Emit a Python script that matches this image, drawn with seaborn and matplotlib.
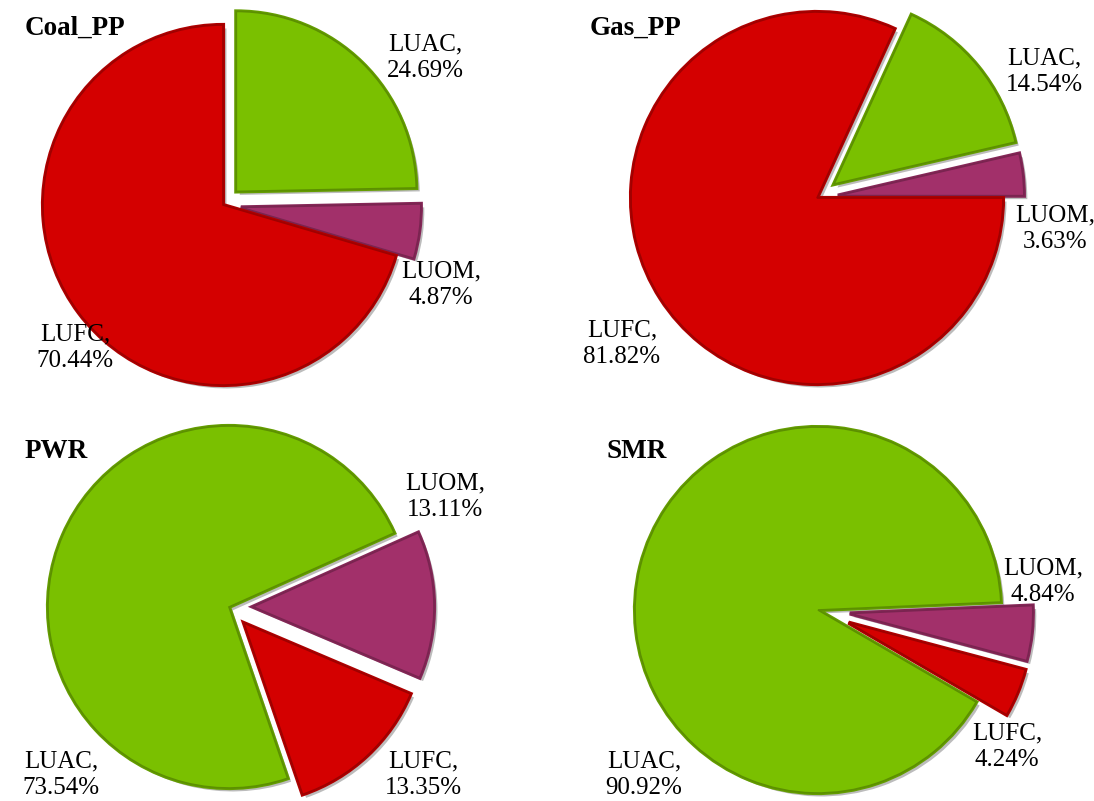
import matplotlib
matplotlib.use("Agg")
import matplotlib.pyplot as plt
import matplotlib.patheffects as pe
from matplotlib.colors import to_rgb
import seaborn as sns

sns.set_theme(style="white")
plt.rcParams["font.family"] = ["Liberation Serif", "DejaVu Serif"]

# Land-use cost shares (%) by plant type
categories = ["LUAC", "LUOM", "LUFC"]
plants = ["Coal_PP", "Gas_PP", "PWR", "SMR"]
coal_pp = [24.69, 4.87, 70.44]
gas_pp = [14.54, 3.63, 81.82]
pwr = [73.54, 13.11, 13.35]
smr = [90.92, 4.84, 4.24]
shares = [coal_pp, gas_pp, pwr, smr]

palette = dict(zip(categories, sns.color_palette(["#7AC000", "#A2306A", "#D40000"])))

W, H = 1094, 801

# Per-panel layout in figure pixels (y measured from the top)
layout = {
    "Coal_PP": dict(center=(223, 205), radius=180, start=90.0, explode=[19, 18, 0],
                    title=(25, 28),
                    labels={"LUAC": (425, 58), "LUOM": (441, 285), "LUFC": (75, 348)}),
    "Gas_PP": dict(center=(817, 198), radius=186, start=65.4, explode=[22, 21, 0],
                   title=(590, 28),
                   labels={"LUAC": (1044, 72), "LUOM": (1055, 229), "LUFC": (622, 344)}),
    "PWR": dict(center=(229, 607), radius=181, start=288.9, explode=[0, 24, 22],
                title=(25, 452),
                labels={"LUAC": (61, 775), "LUOM": (445, 497), "LUFC": (423, 775)}),
    "SMR": dict(center=(818, 610), radius=183, start=329.8, explode=[0, 32, 33],
                title=(607, 452),
                labels={"LUAC": (644, 775), "LUOM": (1043, 582), "LUFC": (1007, 747)}),
}


def shade(c, f):
    r, g, b = to_rgb(c)
    return (r * f, g * f, b * f)


fig = plt.figure(figsize=(W / 100, H / 100), dpi=100)
ax = fig.add_axes([0, 0, 1, 1])

for plant, vals in zip(plants, shares):
    cfg = layout[plant]
    cx, cy = cfg["center"]
    colors = [palette[c] for c in categories]
    wedges, _ = ax.pie(
        vals,
        colors=colors,
        startangle=cfg["start"],
        counterclock=False,
        explode=cfg["explode"],
        radius=cfg["radius"],
        center=(cx, H - cy),
        wedgeprops=dict(linewidth=1.2),
    )
    for w, cat in zip(wedges, categories):
        w.set_edgecolor(shade(palette[cat], 0.75))
        w.set_path_effects([
            pe.SimplePatchShadow(offset=(2.5, -2.5), shadow_rgbFace=(0.25, 0.25, 0.25), alpha=0.35),
            pe.Stroke(linewidth=3.0, foreground=shade(palette[cat], 0.82)),
            pe.Normal(),
        ])
    for cat, v in zip(categories, vals):
        lx, ly = cfg["labels"][cat]
        ax.text(lx, H - ly, f"{cat},\n{v:.2f}%", ha="center", va="center",
                fontsize=18, linespacing=1.28, color="black")
    tx, ty = cfg["title"]
    ax.text(tx, H - ty, plant, ha="left", va="center", fontsize=19.5,
            fontweight="bold", color="black")

ax.set_xlim(0, W)
ax.set_ylim(0, H)
ax.set_aspect("equal", adjustable="box")
ax.axis("off")

fig.savefig("out.png", dpi=100, facecolor="white")
